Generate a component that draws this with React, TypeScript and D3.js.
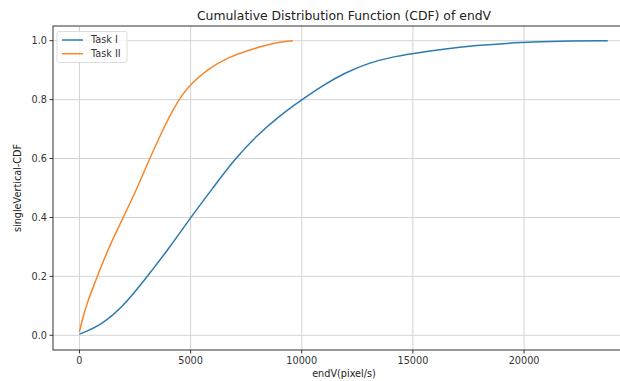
import React from 'react';
import * as d3 from 'd3';

// values
const taskIX = [0, 1000, 2000, 3000, 4000, 5000, 6000, 7000, 8000, 9000, 10000, 11000, 12000, 13000, 14000, 15000, 16250, 17750, 20000, 21500, 23765];
const taskIY = [0.004, 0.035, 0.1, 0.195, 0.292, 0.4, 0.5, 0.6, 0.68, 0.745, 0.8, 0.851, 0.893, 0.924, 0.944, 0.956, 0.97, 0.984, 0.995, 0.999, 1.0];

const taskIIX = [0, 150, 350, 600, 800, 1300, 2000, 2600, 3100, 3700, 4200, 4600, 5000, 5700, 6700, 7900, 8800, 9600];
const taskIIY = [0.012, 0.06, 0.11, 0.16, 0.2, 0.295, 0.405, 0.5, 0.59, 0.69, 0.765, 0.815, 0.852, 0.9, 0.945, 0.975, 0.993, 1.0];

const xTicks = [0, 5000, 10000, 15000, 20000];
const yTicks = [0.0, 0.2, 0.4, 0.6, 0.8, 1.0];
const seriesNames = ['Task I', 'Task II'];
const seriesColors = ['#2b7bb0', '#f8862a'];

const W = 620;
const H = 381;
const margin = { left: 53, top: 26, right: 635, bottom: 350 };
const font = 'DejaVu Sans, sans-serif';

const App = () => {
  const x = d3.scaleLinear().domain([-1190, 24990]).range([margin.left, margin.right]);
  const y = d3.scaleLinear().domain([-0.05, 1.05]).range([margin.bottom, margin.top]);

  const line = d3.line<[number, number]>()
    .x((d) => x(d[0]))
    .y((d) => y(d[1]))
    .curve(d3.curveBasis);

  const series = [
    taskIX.map((v, i) => [v, taskIY[i]] as [number, number]),
    taskIIX.map((v, i) => [v, taskIIY[i]] as [number, number]),
  ];

  const gridColor = '#d3d3d3';
  const tickColor = '#333';

  return (
    <svg width={W} height={H} style={{ position: 'absolute', left: 0, top: 0, background: '#fff' }} fontFamily={font}>
      <defs>
        <clipPath id="plot">
          <rect x={margin.left} y={margin.top} width={margin.right - margin.left} height={margin.bottom - margin.top} />
        </clipPath>
      </defs>

      {/* grid */}
      {xTicks.map((t) => (
        <line key={'gx' + t} x1={x(t)} x2={x(t)} y1={margin.top} y2={margin.bottom} stroke={gridColor} strokeWidth={1} />
      ))}
      {yTicks.map((t) => (
        <line key={'gy' + t} x1={margin.left} x2={margin.right} y1={y(t)} y2={y(t)} stroke={gridColor} strokeWidth={1} />
      ))}

      {/* lines */}
      <g clipPath="url(#plot)">
        {series.map((s, i) => (
          <path key={i} d={line(s) || ''} fill="none" stroke={seriesColors[i]} strokeWidth={1.5} />
        ))}
      </g>

      {/* spines */}
      <rect x={margin.left} y={margin.top} width={margin.right - margin.left} height={margin.bottom - margin.top}
        fill="none" stroke={tickColor} strokeWidth={1} />

      {/* x ticks */}
      {xTicks.map((t) => (
        <g key={'xt' + t}>
          <line x1={x(t)} x2={x(t)} y1={margin.bottom} y2={margin.bottom + 3.5} stroke={tickColor} />
          <text x={x(t)} y={margin.bottom + 14} fontSize={9.7} textAnchor="middle" fill="#333">{t}</text>
        </g>
      ))}
      {/* y ticks */}
      {yTicks.map((t) => (
        <g key={'yt' + t}>
          <line x1={margin.left - 3.5} x2={margin.left} y1={y(t)} y2={y(t)} stroke={tickColor} />
          <text x={margin.left - 6} y={y(t)} dy="0.35em" fontSize={9.7} textAnchor="end" fill="#333">{t.toFixed(1)}</text>
        </g>
      ))}

      {/* labels */}
      <text x={(margin.left + margin.right) / 2} y={20} fontSize={12.4} textAnchor="middle" fill="#222">
        Cumulative Distribution Function (CDF) of endV
      </text>
      <text x={(margin.left + margin.right) / 2} y={377} fontSize={9.7} textAnchor="middle" fill="#222">endV(pixel/s)</text>
      <text transform={`translate(21, ${(margin.top + margin.bottom) / 2}) rotate(-90)`} fontSize={9.7} textAnchor="middle" fill="#222">
        singleVertical-CDF
      </text>

      {/* legend */}
      <rect x={57} y={31.5} width={70} height={31} rx={2} fill="#fff" fillOpacity={0.8} stroke="#ddd" />
      {seriesNames.map((n, i) => (
        <g key={n}>
          <line x1={62} x2={83} y1={40 + i * 13.7} y2={40 + i * 13.7} stroke={seriesColors[i]} strokeWidth={1.5} />
          <text x={91} y={40 + i * 13.7} dy="0.35em" fontSize={9.7} fill="#333">{n}</text>
        </g>
      ))}
    </svg>
  );
};

export default App;
